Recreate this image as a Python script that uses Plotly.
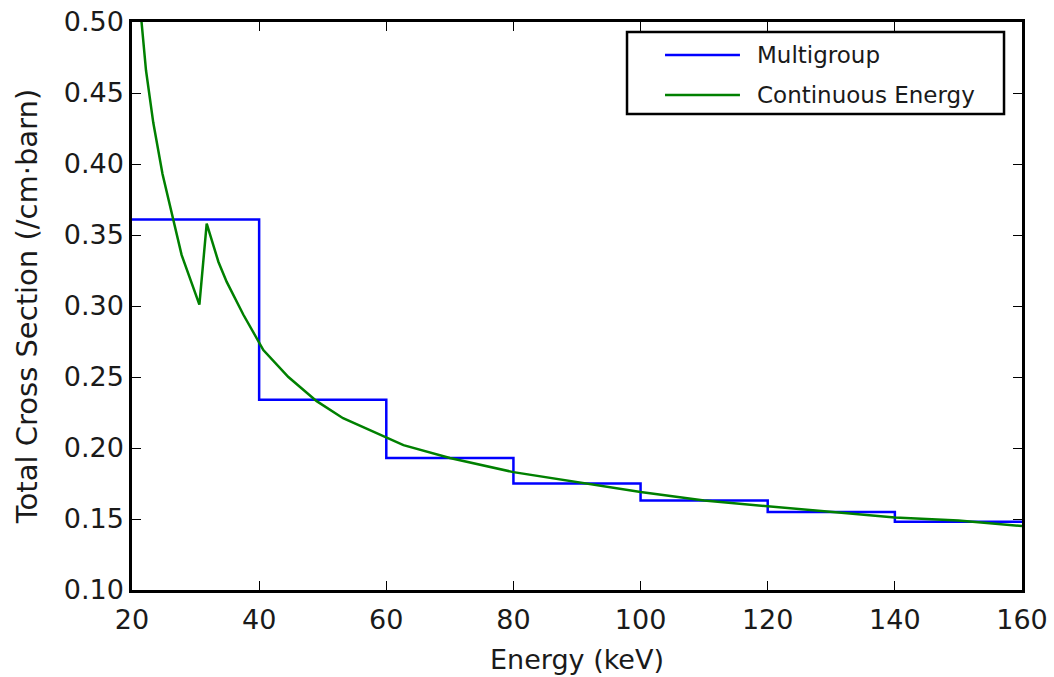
import plotly.graph_objects as go

# Multigroup cross sections: group boundaries (keV) and group-averaged values
group_edges = [20, 40, 60, 80, 100, 120, 140, 160]
group_sigma = [0.361, 0.234, 0.193, 0.175, 0.163, 0.155, 0.148]

# Continuous-energy cross section (keV, /cm·barn), K-edge near 32 keV
ce_energy = [21.5, 22.2, 23.35, 24.8, 27.8, 29.0, 30.6, 31.75, 33.6, 34.9, 37.5,
             40.66, 44.6, 49.05, 53.2, 62.7, 70.0, 80.0, 90.0, 100.0,
             110.0, 120.0, 130.0, 140.0, 150.0, 160.0]
ce_sigma = [0.500, 0.466, 0.429, 0.393, 0.336, 0.321, 0.301, 0.358, 0.331, 0.317, 0.294,
            0.269, 0.250, 0.233, 0.221, 0.202, 0.193, 0.183, 0.176, 0.169,
            0.163, 0.159, 0.155, 0.151, 0.149, 0.145]

series_names = ["Multigroup", "Continuous Energy"]
series_colors = ["#0000ff", "#008000"]

FONT = "DejaVu Sans"
TEXT_COLOR = "#1a1a1a"

fig = go.Figure()
fig.add_trace(go.Scatter(
    x=group_edges,
    y=group_sigma + [group_sigma[-1]],
    mode="lines",
    line=dict(color=series_colors[0], width=2.5, shape="hv"),
    name=series_names[0],
    showlegend=False,
))
fig.add_trace(go.Scatter(
    x=ce_energy,
    y=ce_sigma,
    mode="lines",
    line=dict(color=series_colors[1], width=2.5),
    name=series_names[1],
    showlegend=False,
))

# Legend box with long sample lines, placed in the upper right of the axes
box = dict(x0=0.5562, x1=0.9798, y0=0.8380, y1=0.9824)
fig.add_shape(type="rect", xref="paper", yref="paper", **box,
              line=dict(color="black", width=2.5), fillcolor="white", layer="above")
row_y = [0.9419, 0.8715]
for name, color, yy in zip(series_names, series_colors, row_y):
    fig.add_shape(type="line", xref="paper", yref="paper",
                  x0=0.5989, x1=0.6831, y0=yy, y1=yy,
                  line=dict(color=color, width=2.5), layer="above")
    fig.add_annotation(x=0.7000, y=yy, xref="paper", yref="paper",
                       text=name, showarrow=False, xanchor="left", yanchor="middle",
                       font=dict(family=FONT, size=23, color=TEXT_COLOR))

axis_common = dict(
    showgrid=False,
    zeroline=False,
    showline=True,
    linecolor="black",
    linewidth=2.5,
    mirror="allticks",
    ticks="inside",
    ticklen=9,
    tickwidth=1.2,
    tickcolor="black",
    automargin=False,
    tickfont=dict(family=FONT, size=27, color=TEXT_COLOR),
)

fig.update_layout(
    width=1054,
    height=677,
    margin=dict(l=132, r=32, t=22, b=87),
    paper_bgcolor="white",
    plot_bgcolor="white",
    showlegend=False,
    xaxis=dict(
        range=[20, 160],
        tickvals=[20, 40, 60, 80, 100, 120, 140, 160],
        ticklabelstandoff=4,
        title=dict(text="Energy (keV)", font=dict(family=FONT, size=27, color=TEXT_COLOR), standoff=16),
        **axis_common,
    ),
    yaxis=dict(
        range=[0.10, 0.50],
        tickvals=[0.10, 0.15, 0.20, 0.25, 0.30, 0.35, 0.40, 0.45, 0.50],
        tickformat=".2f",
        title=dict(text="Total Cross Section (/cm·barn)", font=dict(family=FONT, size=29, color=TEXT_COLOR), standoff=18),
        **axis_common,
    ),
)

fig.write_html("out.html")
